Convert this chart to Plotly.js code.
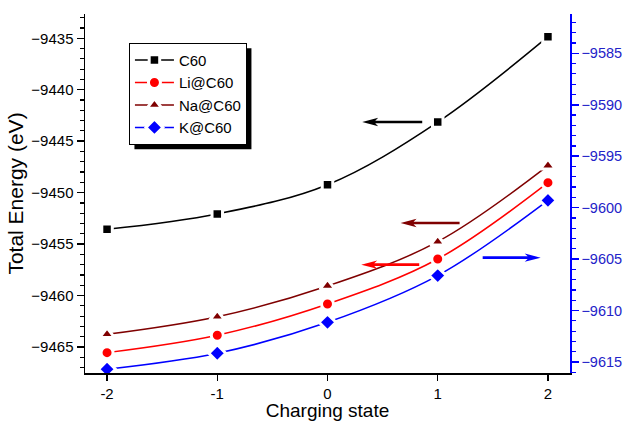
<!DOCTYPE html>
<html>
<head>
<meta charset="utf-8">
<script src="https://cdn.plot.ly/plotly-3.0.1.min.js"></script>
<style>html,body{margin:0;padding:0;background:#fff;}#chart{width:623px;height:421px;}</style>
</head>
<body>
<div id="chart"></div>
<script>
// Data
const chargingState = [-2, -1, 0, 1, 2];
const energyC60 = [-9453.56, -9452.07, -9449.23, -9443.14, -9434.84];
const energyLi = [-9465.55, -9463.86, -9460.82, -9456.45, -9449.03];
const energyNa = [-9463.77, -9462.06, -9459.07, -9454.77, -9447.38];
const energyK = [-9615.7, -9614.15, -9611.14, -9606.6, -9599.29];
const seriesNames = ["C60", "Li@C60", "Na@C60", "K@C60"];

const FONT = "Liberation Sans, Arial, sans-serif";
const BLUE = "#0000ff";

function tr(y, name, color, symbol, size, yaxis) {
  return {
    x: chargingState, y: y, name: name, type: "scatter", mode: "lines+markers",
    yaxis: yaxis, cliponaxis: false,
    line: {color: color, width: 1.5, shape: "spline", smoothing: 1},
    marker: {color: color, symbol: symbol, size: size, line: {color: "#ffffff", width: 3}}
  };
}

const data = [
  tr(energyC60, seriesNames[0], "#000000", "square", 10.5, "y"),
  tr(energyLi, seriesNames[1], "#ff0000", "circle", 12, "y"),
  tr(energyNa, seriesNames[2], "#7f0000", "triangle-up", 13, "y"),
  tr(energyK, seriesNames[3], BLUE, "diamond", 13, "y2")
];

function arrow(x, y, yref, len, dir, color) {
  const L = len * dir, h = 16 * dir, n = 13 * dir;
  const p = `M0,0 L${h},4.2 L${n},1.3 L${L},1.3 L${L},-1.3 L${n},-1.3 L${h},-4.2 Z`;
  return {type: "path", xref: "x", yref: yref, xsizemode: "pixel", ysizemode: "pixel",
    xanchor: x, yanchor: y, path: p, fillcolor: color, line: {width: 0}, layer: "above"};
}

const layout = {
  width: 623, height: 421,
  margin: {l: 85, r: 53, t: 14, b: 48},
  paper_bgcolor: "#ffffff", plot_bgcolor: "#ffffff",
  font: {family: FONT, color: "#000"},
  showlegend: true,
  legend: {x: 0.0906, y: 0.92, xanchor: "left", yanchor: "top",
    bgcolor: "#ffffff", bordercolor: "#000", borderwidth: 1, itemwidth: 39,
    font: {family: FONT, size: 15, color: "#000"}, tracegroupgap: 0},
  xaxis: {range: [-2.2, 2.2], tickvals: chargingState, ticktext: chargingState.map(String),
    ticks: "outside", ticklen: 6, tickwidth: 1.5, tickcolor: "#000",
    showline: true, linecolor: "#000", linewidth: 1.5, mirror: false,
    showgrid: false, zeroline: false,
    tickfont: {family: FONT, size: 15, color: "#000"},
    title: {text: "Charging state", font: {family: FONT, size: 19, color: "#000"}, standoff: 7}},
  xaxis2: {range: [-2.2, 2.2], overlaying: "x", side: "top", tickvals: chargingState,
    ticks: "inside", ticklen: 5, tickwidth: 1.5, tickcolor: "#000",
    showticklabels: false, showline: true, linecolor: "#000", linewidth: 1.5,
    showgrid: false, zeroline: false},
  yaxis: {range: [-9467.53, -9432.64], dtick: 5, tick0: 0,
    ticks: "outside", ticklen: 7, tickwidth: 1.5, tickcolor: "#000",
    minor: {dtick: 1, ticks: "outside", ticklen: 4, tickwidth: 1.2, tickcolor: "#000"},
    showline: true, linecolor: "#000", linewidth: 1.5, showgrid: false, zeroline: false,
    tickfont: {family: FONT, size: 15, color: "#000"},
    title: {text: "Total Energy (eV)", font: {family: FONT, size: 21, color: "#000"}, standoff: 2}},
  yaxis2: {range: [-9616.07, -9581.18], dtick: 5, tick0: 0, overlaying: "y", side: "right",
    ticks: "outside", ticklen: 7, tickwidth: 1.5, tickcolor: BLUE,
    minor: {dtick: 1, ticks: "outside", ticklen: 4, tickwidth: 1.2, tickcolor: BLUE},
    showline: true, linecolor: BLUE, linewidth: 1.5, showgrid: false, zeroline: false,
    tickfont: {family: FONT, size: 14.5, color: "#2323c8"}},
  shapes: [
    arrow(0.315, -9443.13, "y", 60, 1, "#000000"),
    arrow(0.663, -9452.95, "y", 59, 1, "#7f0000"),
    arrow(0.306, -9457.0, "y", 58, 1, "#ff0000"),
    arrow(1.934, -9604.86, "y2", 58, -1, BLUE)
  ]
};

Plotly.newPlot("chart", data, layout, {displayModeBar: false, staticPlot: true}).then(function (gd) {
  // legend drop shadow sized from the drawn legend box
  const bg = gd.querySelector(".legend .bg");
  if (!bg) return;
  const r = bg.getBoundingClientRect();
  const c = gd.getBoundingClientRect();
  const sz = gd._fullLayout._size;
  const off = 5;
  const px = (v) => (v - c.left - sz.l) / sz.w;
  const py = (v) => 1 - (v - c.top - sz.t) / sz.h;
  Plotly.relayout(gd, {shapes: layout.shapes.concat([{
    type: "rect", xref: "paper", yref: "paper",
    x0: px(r.left + off), x1: px(r.right + off), y0: py(r.bottom + off), y1: py(r.top + off),
    fillcolor: "#000", line: {width: 0}, layer: "above"}])});
});
</script>
</body>
</html>
